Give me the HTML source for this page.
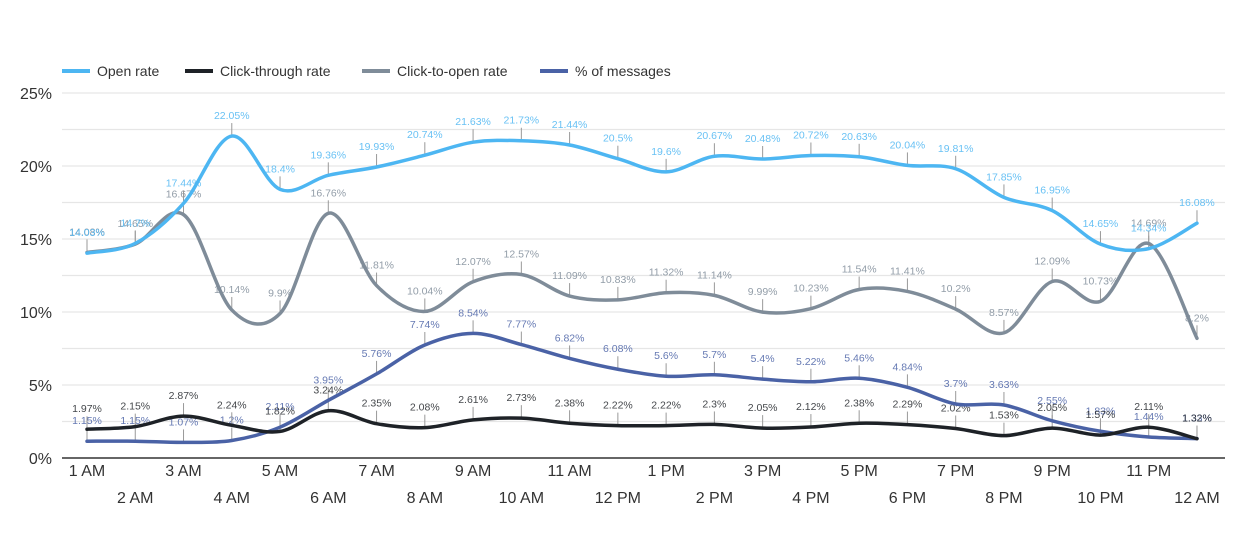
<!DOCTYPE html>
<html><head><meta charset="utf-8">
<style>
html,body{margin:0;padding:0;background:#fff;}
svg{display:block;font-family:"Liberation Sans",Arial,sans-serif;}
</style></head>
<body>
<svg id="c" width="1254" height="556" viewBox="0 0 1254 556" xmlns="http://www.w3.org/2000/svg"></svg>
<script>
const svg=document.getElementById('c');
const NS='http://www.w3.org/2000/svg';
function el(t,a,txt){const e=document.createElementNS(NS,t);for(const k in a)e.setAttribute(k,a[k]);if(txt!==undefined)e.textContent=txt;svg.appendChild(e);return e;}
const X0=62,X1=1225,px0=87,dx=48.26,y0=458,k=14.6;
const X=i=>px0+i*dx, Y=v=>y0-v*k;
// grid
for(let g=2.5;g<=25;g+=2.5){el('line',{x1:X0,x2:X1,y1:Y(g),y2:Y(g),stroke:'#e6e6e6','stroke-width':1.2});}
[0,5,10,15,20,25].forEach(v=>el('text',{x:52,y:Y(v)+6,'text-anchor':'end','font-size':16,fill:'#333'},v+'%'));
const lab=['1 AM','2 AM','3 AM','4 AM','5 AM','6 AM','7 AM','8 AM','9 AM','10 AM','11 AM','12 PM','1 PM','2 PM','3 PM','4 PM','5 PM','6 PM','7 PM','8 PM','9 PM','10 PM','11 PM','12 AM'];
lab.forEach((l,i)=>el('text',{x:X(i),y:i%2?503:476,'text-anchor':'middle','font-size':16,fill:'#333'},l));
const series=[
 {c:'#7f8c99',d:[14.08,14.65,16.67,10.14,9.9,16.76,11.81,10.04,12.07,12.57,11.09,10.83,11.32,11.14,9.99,10.23,11.54,11.41,10.2,8.57,12.09,10.73,14.69,8.2]},
 {c:'#4db6f2',d:[14.03,14.7,17.44,22.05,18.4,19.36,19.93,20.74,21.63,21.73,21.44,20.5,19.6,20.67,20.48,20.72,20.63,20.04,19.81,17.85,16.95,14.65,14.34,16.08]},
 {c:'#4a62a6',d:[1.15,1.15,1.07,1.2,2.11,3.95,5.76,7.74,8.54,7.77,6.82,6.08,5.6,5.7,5.4,5.22,5.46,4.84,3.7,3.63,2.55,1.83,1.44,1.33]},
 {c:'#1e2227',d:[1.97,2.15,2.87,2.24,1.82,3.24,2.35,2.08,2.61,2.73,2.38,2.22,2.22,2.3,2.05,2.12,2.38,2.29,2.02,1.53,2.05,1.57,2.11,1.32]}
];
// ticks + labels first
series.forEach(s=>{s.d.forEach((v,i)=>{const x=X(i),y=Y(v);
 el('line',{x1:x,x2:x,y1:y,y2:y-13,stroke:'#999','stroke-width':1});
 el('text',{x:x,y:y-17,'text-anchor':'middle','font-size':10.5,fill:s.c,'fill-opacity':0.85},v+'%');});});
el('line',{x1:X0,x2:X1,y1:y0,y2:y0,stroke:'#333','stroke-width':1.5});
series.forEach(s=>{const p=s.d.map((v,i)=>[X(i),Y(v)]);let d='M'+p[0][0]+','+p[0][1];
 for(let i=0;i<p.length-1;i++){const a=p[Math.max(0,i-1)],b=p[i],c=p[i+1],e=p[Math.min(p.length-1,i+2)];
  const t=0.5/3;const c1=[b[0]+(c[0]-a[0])*t,b[1]+(c[1]-a[1])*t],c2=[c[0]-(e[0]-b[0])*t,c[1]-(e[1]-b[1])*t];
  d+=` C${c1[0]},${c1[1]} ${c2[0]},${c2[1]} ${c[0]},${c[1]}`;}
 el('path',{d:d,fill:'none',stroke:s.c,'stroke-width':3.5,'stroke-linecap':'round'});});
// legend
[[62,'#4db6f2','Open rate'],[185,'#1e2227','Click-through rate'],[362,'#7f8c99','Click-to-open rate'],[540,'#4a62a6','% of messages']].forEach(([x,c,t])=>{
 el('line',{x1:x,x2:x+28,y1:71,y2:71,stroke:c,'stroke-width':4});
 el('text',{x:x+35,y:76,'font-size':14,fill:'#333'},t);});
</script>
</body></html>
